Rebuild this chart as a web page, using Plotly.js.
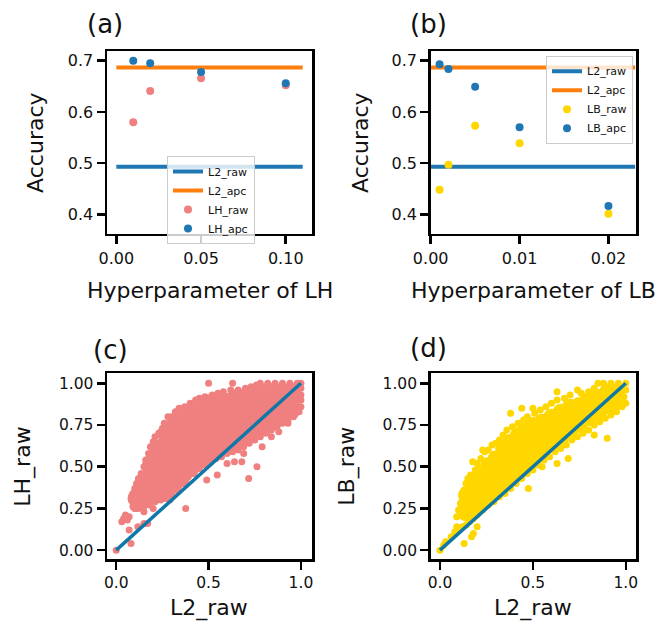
<!DOCTYPE html>
<html>
<head>
<meta charset="utf-8">
<script src="https://cdn.plot.ly/plotly-3.0.1.min.js"></script>
<style>html,body{margin:0;padding:0;background:#fff;}#chart{width:663px;height:629px;}</style>
</head>
<body>
<div id="chart"></div>
<script>
// ---------- data ----------
const lhParams = [0.01, 0.02, 0.05, 0.10];
const lhRaw = [0.580, 0.641, 0.666, 0.652];
const lhApc = [0.700, 0.695, 0.678, 0.656];
const lbParams = [0.001, 0.002, 0.005, 0.010, 0.020];
const lbRaw = [0.448, 0.497, 0.573, 0.539, 0.401];
const lbApc = [0.693, 0.684, 0.649, 0.570, 0.416];
const l2RawAcc = 0.493;
const l2ApcAcc = 0.687;
const lineXa = [0, 0.11];
const lineXb = [0, 0.023];
const diag = [0, 1];

// panel (c): L2_raw vs LH_raw, dense interior of the cloud
const lhCloudCore = [
[0.11,0.31],
[0.15,0.32],[0.15,0.39],
[0.19,0.33],[0.19,0.40],[0.19,0.46],[0.19,0.52],
[0.23,0.35],[0.23,0.42],[0.23,0.49],[0.23,0.55],[0.23,0.61],
[0.27,0.36],[0.27,0.43],[0.27,0.50],[0.27,0.57],[0.27,0.64],[0.27,0.70],
[0.31,0.39],[0.31,0.46],[0.31,0.53],[0.31,0.60],[0.31,0.67],[0.31,0.74],
[0.35,0.43],[0.35,0.50],[0.35,0.57],[0.35,0.64],[0.35,0.71],[0.35,0.78],
[0.40,0.49],[0.40,0.55],[0.40,0.62],[0.40,0.69],[0.40,0.76],[0.40,0.82],
[0.45,0.54],[0.45,0.60],[0.45,0.67],[0.45,0.74],[0.45,0.80],[0.45,0.85],
[0.50,0.57],[0.50,0.64],[0.50,0.71],[0.50,0.78],[0.50,0.84],[0.50,0.88],
[0.55,0.61],[0.55,0.68],[0.55,0.75],[0.55,0.82],[0.55,0.88],
[0.60,0.63],[0.60,0.70],[0.60,0.77],[0.60,0.84],[0.60,0.89],
[0.65,0.66],[0.65,0.73],[0.65,0.80],[0.65,0.86],[0.65,0.91],
[0.70,0.68],[0.70,0.75],[0.70,0.82],[0.70,0.88],[0.70,0.92],
[0.75,0.71],[0.75,0.78],[0.75,0.85],[0.75,0.91],[0.75,0.93],
[0.80,0.74],[0.80,0.81],[0.80,0.88],[0.80,0.94],
[0.85,0.77],[0.85,0.84],[0.85,0.90],[0.85,0.95],
[0.90,0.81],[0.90,0.88],[0.90,0.95],
[0.95,0.84],[0.95,0.90],[0.95,0.95]
];
// panel (c): individual points on the cloud border and outliers
const lhCloudEdge = [
[0.085,0.30],[0.09,0.34],[0.10,0.37],[0.11,0.40],[0.12,0.43],[0.135,0.46],[0.15,0.50],[0.16,0.54],[0.175,0.58],[0.185,0.62],
[0.20,0.65],[0.21,0.68],[0.23,0.70],[0.25,0.73],[0.26,0.76],[0.28,0.80],[0.30,0.80],[0.32,0.83],[0.34,0.85],[0.37,0.86],
[0.40,0.88],[0.43,0.90],[0.45,0.91],[0.48,0.92],[0.50,1.00],[0.52,0.93],[0.55,0.94],[0.58,0.95],[0.63,1.00],[0.62,0.96],
[0.66,0.96],[0.70,0.97],[0.73,0.98],[0.76,0.99],[0.78,1.00],[0.82,1.00],[0.86,1.00],[0.90,1.00],[0.94,1.00],[0.98,1.00],
[1.00,1.00],[1.00,0.97],[1.00,0.93],[1.00,0.90],
[0.09,0.26],[0.10,0.25],[0.12,0.25],[0.15,0.26],[0.18,0.27],[0.21,0.29],[0.24,0.30],[0.27,0.31],[0.30,0.33],[0.33,0.36],
[0.36,0.40],[0.39,0.44],[0.42,0.46],[0.45,0.49],[0.48,0.51],[0.51,0.53],[0.54,0.55],[0.57,0.56],[0.60,0.58],[0.63,0.59],
[0.66,0.60],[0.69,0.62],[0.72,0.64],[0.75,0.66],[0.78,0.68],[0.81,0.70],[0.84,0.72],[0.87,0.74],[0.90,0.76],[0.93,0.78],
[0.96,0.80],[0.99,0.83],[1.00,0.86],
[0.29,0.30],[0.376,0.25],[0.49,0.42],[0.547,0.45],[0.60,0.52],[0.64,0.53],[0.68,0.53],[0.69,0.58],[0.717,0.43],[0.762,0.50],
[0.79,0.62],[0.84,0.68],[0.88,0.71],[0.93,0.76],
[0.00,0.00],[0.03,0.17],[0.04,0.19],[0.05,0.21],[0.06,0.18],[0.07,0.20],[0.07,0.12],[0.08,0.04],[0.117,0.14],[0.15,0.16],
[0.17,0.16],[0.15,0.23],[0.107,0.25],[0.20,0.25],[0.25,0.31]
];

// panel (d): L2_raw vs LB_raw
const lbCloudCore = [
[0.14,0.22],[0.14,0.28],[0.14,0.33],
[0.18,0.25],[0.18,0.31],[0.18,0.37],[0.18,0.41],
[0.22,0.29],[0.22,0.35],[0.22,0.41],[0.22,0.46],
[0.26,0.33],[0.26,0.39],[0.26,0.45],[0.26,0.51],
[0.30,0.37],[0.30,0.43],[0.30,0.49],[0.30,0.55],
[0.34,0.40],[0.34,0.46],[0.34,0.52],[0.34,0.58],[0.34,0.61],
[0.38,0.44],[0.38,0.50],[0.38,0.56],[0.38,0.62],[0.38,0.65],
[0.42,0.47],[0.42,0.53],[0.42,0.59],[0.42,0.65],[0.42,0.69],
[0.46,0.51],[0.46,0.57],[0.46,0.63],[0.46,0.69],[0.46,0.72],
[0.50,0.54],[0.50,0.60],[0.50,0.66],[0.50,0.72],[0.50,0.75],
[0.55,0.59],[0.55,0.65],[0.55,0.71],[0.55,0.77],
[0.60,0.63],[0.60,0.69],[0.60,0.75],[0.60,0.80],
[0.65,0.67],[0.65,0.73],[0.65,0.79],[0.65,0.83],
[0.70,0.71],[0.70,0.77],[0.70,0.83],[0.70,0.86],
[0.75,0.75],[0.75,0.81],[0.75,0.87],
[0.80,0.79],[0.80,0.85],[0.80,0.90],
[0.85,0.82],[0.85,0.88],[0.85,0.92],
[0.90,0.86],[0.90,0.92],[0.90,0.95],
[0.95,0.89],[0.95,0.95]
];
const lbCloudEdge = [
[0.09,0.20],[0.10,0.24],[0.11,0.28],[0.12,0.32],[0.13,0.36],[0.14,0.40],[0.15,0.43],[0.165,0.45],[0.176,0.53],[0.19,0.48],
[0.20,0.52],[0.22,0.55],[0.24,0.59],[0.23,0.60],[0.26,0.60],[0.28,0.63],[0.30,0.64],[0.32,0.66],[0.34,0.69],[0.36,0.72],
[0.38,0.82],[0.39,0.74],[0.42,0.76],[0.44,0.85],[0.45,0.78],[0.47,0.80],[0.50,0.85],[0.51,0.82],[0.54,0.84],[0.57,0.86],
[0.60,0.88],[0.63,0.95],[0.63,0.90],[0.67,0.91],[0.70,0.93],[0.74,0.96],[0.76,0.94],[0.80,0.95],[0.83,0.97],[0.85,1.00],
[0.88,1.00],[0.92,1.00],[0.96,1.00],[1.00,1.00],[1.00,0.96],[0.99,0.92],
[0.09,0.14],[0.10,0.12],[0.12,0.14],[0.14,0.15],[0.16,0.17],[0.18,0.19],[0.20,0.21],[0.23,0.24],[0.26,0.27],[0.29,0.29],
[0.32,0.32],[0.35,0.34],[0.38,0.37],[0.41,0.40],[0.44,0.43],[0.47,0.46],[0.50,0.48],[0.53,0.51],[0.56,0.54],[0.59,0.56],
[0.62,0.59],[0.65,0.61],[0.68,0.63],[0.71,0.66],[0.74,0.68],[0.77,0.70],[0.80,0.72],[0.83,0.75],[0.86,0.77],[0.89,0.79],
[0.92,0.81],[0.95,0.83],[0.98,0.86],[1.00,0.88],
[0.476,0.37],[0.90,0.67],[0.83,0.69],[0.63,0.52],[0.69,0.55],[0.55,0.50],[0.17,0.08],[0.13,0.04],[0.08,0.11],[0.06,0.08],
[0.03,0.05],[0.00,0.00],[0.18,0.10],[0.20,0.14],[0.02,0.03]
];

// ---------- styling ----------
const FONT = 'DejaVu Sans, sans-serif';
const BLUE = '#1f77b4', ORANGE = '#ff7f0e', CORAL = '#f08080', GOLD = '#ffd700', DIAG = '#0f78a8';
const xs = a => a.map(p => p[0]);
const ys = a => a.map(p => p[1]);

const traces = [
  {x: lineXa, y: [l2RawAcc, l2RawAcc], xaxis:'x', yaxis:'y', mode:'lines', name:'L2_raw', line:{color:BLUE, width:4}, legend:'legend'},
  {x: lineXa, y: [l2ApcAcc, l2ApcAcc], xaxis:'x', yaxis:'y', mode:'lines', name:'L2_apc', line:{color:ORANGE, width:4}, legend:'legend'},
  {x: lhParams, y: lhRaw, xaxis:'x', yaxis:'y', mode:'markers', name:'LH_raw', marker:{color:CORAL, size:8}, legend:'legend'},
  {x: lhParams, y: lhApc, xaxis:'x', yaxis:'y', mode:'markers', name:'LH_apc', marker:{color:BLUE, size:8}, legend:'legend'},

  {x: lineXb, y: [l2RawAcc, l2RawAcc], xaxis:'x2', yaxis:'y2', mode:'lines', name:'L2_raw', line:{color:BLUE, width:4}, legend:'legend2'},
  {x: lineXb, y: [l2ApcAcc, l2ApcAcc], xaxis:'x2', yaxis:'y2', mode:'lines', name:'L2_apc', line:{color:ORANGE, width:4}, legend:'legend2'},
  {x: lbParams, y: lbRaw, xaxis:'x2', yaxis:'y2', mode:'markers', name:'LB_raw', marker:{color:GOLD, size:8}, legend:'legend2'},
  {x: lbParams, y: lbApc, xaxis:'x2', yaxis:'y2', mode:'markers', name:'LB_apc', marker:{color:BLUE, size:8}, legend:'legend2'},

  {x: xs(lhCloudCore), y: ys(lhCloudCore), xaxis:'x3', yaxis:'y3', mode:'markers', showlegend:false, marker:{color:CORAL, size:18}},
  {x: xs(lhCloudEdge), y: ys(lhCloudEdge), xaxis:'x3', yaxis:'y3', mode:'markers', showlegend:false, marker:{color:CORAL, size:7}},
  {x: diag, y: diag, xaxis:'x3', yaxis:'y3', mode:'lines', showlegend:false, line:{color:DIAG, width:3.5}},

  {x: xs(lbCloudCore), y: ys(lbCloudCore), xaxis:'x4', yaxis:'y4', mode:'markers', showlegend:false, marker:{color:GOLD, size:16}},
  {x: xs(lbCloudEdge), y: ys(lbCloudEdge), xaxis:'x4', yaxis:'y4', mode:'markers', showlegend:false, marker:{color:GOLD, size:7}},
  {x: diag, y: diag, xaxis:'x4', yaxis:'y4', mode:'lines', showlegend:false, line:{color:DIAG, width:3.5}}
];

function ax(extra, fs) {
  return Object.assign({
    showgrid:false, zeroline:false, showline:true, mirror:true, linecolor:'#000', linewidth:2.5,
    ticks:'outside', ticklen:8, tickwidth:2.5, tickcolor:'#000',
    tickfont:{family:FONT, size:fs, color:'#111'}, fixedrange:true
  }, extra);
}

const topY = [0.628, 0.9189], botY = [0.1108, 0.4065];
const leftX = [0.1614, 0.4706], rightX = [0.6496, 0.9593];

function ann(text, px, py, size, angle) {
  return {text:text, xref:'paper', yref:'paper', x:px/663, y:1-py/629, xanchor:'center', yanchor:'middle',
          showarrow:false, textangle:angle||0, font:{family:FONT, size:size, color:'#111'}};
}

const legendBase = {bgcolor:'rgba(255,255,255,0.8)', bordercolor:'#cccccc', borderwidth:1,
  font:{family:FONT, size:11, color:'#111'}, xanchor:'left', yanchor:'top', tracegroupgap:0};

const layout = {
  width:663, height:629, margin:{l:0, r:0, t:0, b:0},
  paper_bgcolor:'#fff', plot_bgcolor:'#fff',
  xaxis: ax({domain:leftX, anchor:'y', range:[-0.0055, 0.1155], tickvals:[0, 0.05, 0.10], ticktext:['0.00','0.05','0.10']}, 16),
  yaxis: ax({domain:topY, anchor:'x', range:[0.3615, 0.719], tickvals:[0.4,0.5,0.6,0.7], ticktext:['0.4','0.5','0.6','0.7']}, 16),
  xaxis2: ax({domain:rightX, anchor:'y2', range:[0, 0.0231], tickvals:[0, 0.01, 0.02], ticktext:['0.00','0.01','0.02']}, 16),
  yaxis2: ax({domain:topY, anchor:'x2', range:[0.3615, 0.719], tickvals:[0.4,0.5,0.6,0.7], ticktext:['0.4','0.5','0.6','0.7']}, 16),
  xaxis3: ax({domain:leftX, anchor:'y3', range:[-0.05, 1.06], tickvals:[0,0.5,1], ticktext:['0.0','0.5','1.0']}, 15.5),
  yaxis3: ax({domain:botY, anchor:'x3', range:[-0.055, 1.06], tickvals:[0,0.25,0.5,0.75,1], ticktext:['0.00','0.25','0.50','0.75','1.00']}, 15.5),
  xaxis4: ax({domain:rightX, anchor:'y4', range:[-0.05, 1.055], tickvals:[0,0.5,1], ticktext:['0.0','0.5','1.0']}, 15.5),
  yaxis4: ax({domain:botY, anchor:'x4', range:[-0.055, 1.06], tickvals:[0,0.25,0.5,0.75,1], ticktext:['0.00','0.25','0.50','0.75','1.00']}, 15.5),
  legend: Object.assign({}, legendBase, {x:167/663, y:1-156/629}),
  legend2: Object.assign({}, legendBase, {x:546/663, y:1-55.7/629}),
  annotations: [
    ann('(a)', 105, 24, 26), ann('(b)', 428, 24, 26), ann('(c)', 110, 350, 26), ann('(d)', 428, 348, 26),
    ann('Hyperparameter of LH', 209.5, 290.5, 22), ann('Hyperparameter of LB', 533, 290.5, 22),
    ann('L2_raw', 209, 607.5, 22), ann('L2_raw', 533, 607.5, 22),
    ann('Accuracy', 35.4, 142.5, 22, -90), ann('Accuracy', 360.4, 142.5, 22, -90),
    ann('LH_raw', 23.4, 466.3, 22, -90), ann('LB_raw', 347.4, 466.3, 22, -90)
  ]
};

Plotly.newPlot('chart', traces, layout, {displayModeBar:false, staticPlot:true});
</script>
</body>
</html>
